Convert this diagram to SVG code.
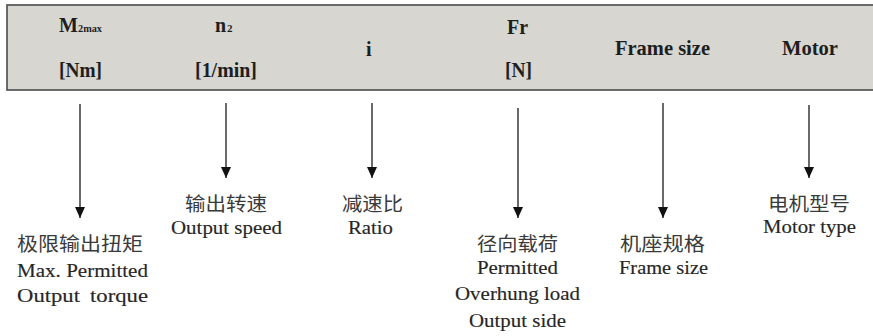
<svg xmlns="http://www.w3.org/2000/svg" width="873" height="336" viewBox="0 0 873 336">
<style>
.hd{font-family:"Liberation Serif","Times New Roman",serif;font-weight:bold;font-size:20px;fill:#1e1e1e}
.sub{font-family:"Liberation Serif","Times New Roman",serif;font-weight:bold;font-size:11px;fill:#1e1e1e}
.en{font-family:"Liberation Serif","Times New Roman",serif;font-size:19px;fill:#262626;stroke:#262626;stroke-width:0.15}
.cn{font-family:"Noto Sans CJK SC","Noto Sans",sans-serif;font-size:19px;fill:#3a3a3a}
.arr{stroke:#1a1a1a;stroke-width:1.3;fill:none;marker-end:url(#ah)}
</style>
<defs>
<marker id="ah" markerUnits="userSpaceOnUse" markerWidth="12" markerHeight="12" viewBox="0 0 12 12" refX="11" refY="6" orient="auto">
<path d="M0,1 L11,6 L0,11 Z" fill="#111"/>
</marker>
</defs>
<rect width="873" height="336" fill="#ffffff"/>
<g id="header">
<rect x="7" y="5" width="870" height="85" fill="#d7d6d1" stroke="#4a4a4a" stroke-width="1.6"/>
<text class="hd" x="59" y="32">M</text><text class="sub" x="78" y="32" textLength="24" lengthAdjust="spacingAndGlyphs">2max</text>
<text class="hd" x="59" y="77" textLength="43" lengthAdjust="spacingAndGlyphs">[Nm]</text>
<text class="hd" x="215" y="32">n</text><text class="sub" x="227" y="32">2</text>
<text class="hd" x="195" y="77" textLength="62" lengthAdjust="spacingAndGlyphs">[1/min]</text>
<text class="hd" x="366" y="56">i</text>
<text class="hd" x="507" y="34" textLength="21" lengthAdjust="spacingAndGlyphs">Fr</text>
<text class="hd" x="505" y="77" textLength="27" lengthAdjust="spacingAndGlyphs">[N]</text>
<text class="hd" x="615" y="55" textLength="95" lengthAdjust="spacingAndGlyphs">Frame size</text>
<text class="hd" x="782" y="55" textLength="56" lengthAdjust="spacingAndGlyphs">Motor</text>
</g>
<g id="connectors">
<line class="arr" x1="80" y1="104" x2="80" y2="218"/>
<line class="arr" x1="226" y1="103" x2="226" y2="178"/>
<line class="arr" x1="372" y1="103" x2="372" y2="178"/>
<line class="arr" x1="518" y1="108" x2="518" y2="218"/>
<line class="arr" x1="663" y1="103" x2="663" y2="218"/>
<line class="arr" x1="809" y1="105" x2="809" y2="178"/>
</g>
<g id="torque">
<text class="cn" x="17" y="251" textLength="126" lengthAdjust="spacingAndGlyphs">极限输出扭矩</text>
<text class="en" x="17" y="277" textLength="131" lengthAdjust="spacingAndGlyphs">Max. Permitted</text>
<text class="en" x="17" y="302" textLength="63" lengthAdjust="spacingAndGlyphs">Output</text>
<text class="en" x="90" y="302" textLength="58" lengthAdjust="spacingAndGlyphs">torque</text>
</g>
<g id="speed">
<text class="cn" x="185" y="211" textLength="82" lengthAdjust="spacingAndGlyphs">输出转速</text>
<text class="en" x="171" y="234" textLength="111" lengthAdjust="spacingAndGlyphs">Output speed</text>
</g>
<g id="ratio">
<text class="cn" x="342" y="211" textLength="61" lengthAdjust="spacingAndGlyphs">减速比</text>
<text class="en" x="348" y="234" textLength="45" lengthAdjust="spacingAndGlyphs">Ratio</text>
</g>
<g id="load">
<text class="cn" x="477" y="251" textLength="81" lengthAdjust="spacingAndGlyphs">径向载荷</text>
<text class="en" x="477" y="274" textLength="81" lengthAdjust="spacingAndGlyphs">Permitted</text>
<text class="en" x="455" y="300" textLength="125" lengthAdjust="spacingAndGlyphs">Overhung load</text>
<text class="en" x="469" y="327" textLength="97" lengthAdjust="spacingAndGlyphs">Output side</text>
</g>
<g id="frame">
<text class="cn" x="620" y="251" textLength="85" lengthAdjust="spacingAndGlyphs">机座规格</text>
<text class="en" x="619" y="274" textLength="89" lengthAdjust="spacingAndGlyphs">Frame size</text>
</g>
<g id="motor">
<text class="cn" x="768" y="211" textLength="82" lengthAdjust="spacingAndGlyphs">电机型号</text>
<text class="en" x="763" y="233" textLength="93" lengthAdjust="spacingAndGlyphs">Motor type</text>
</g>
</svg>
